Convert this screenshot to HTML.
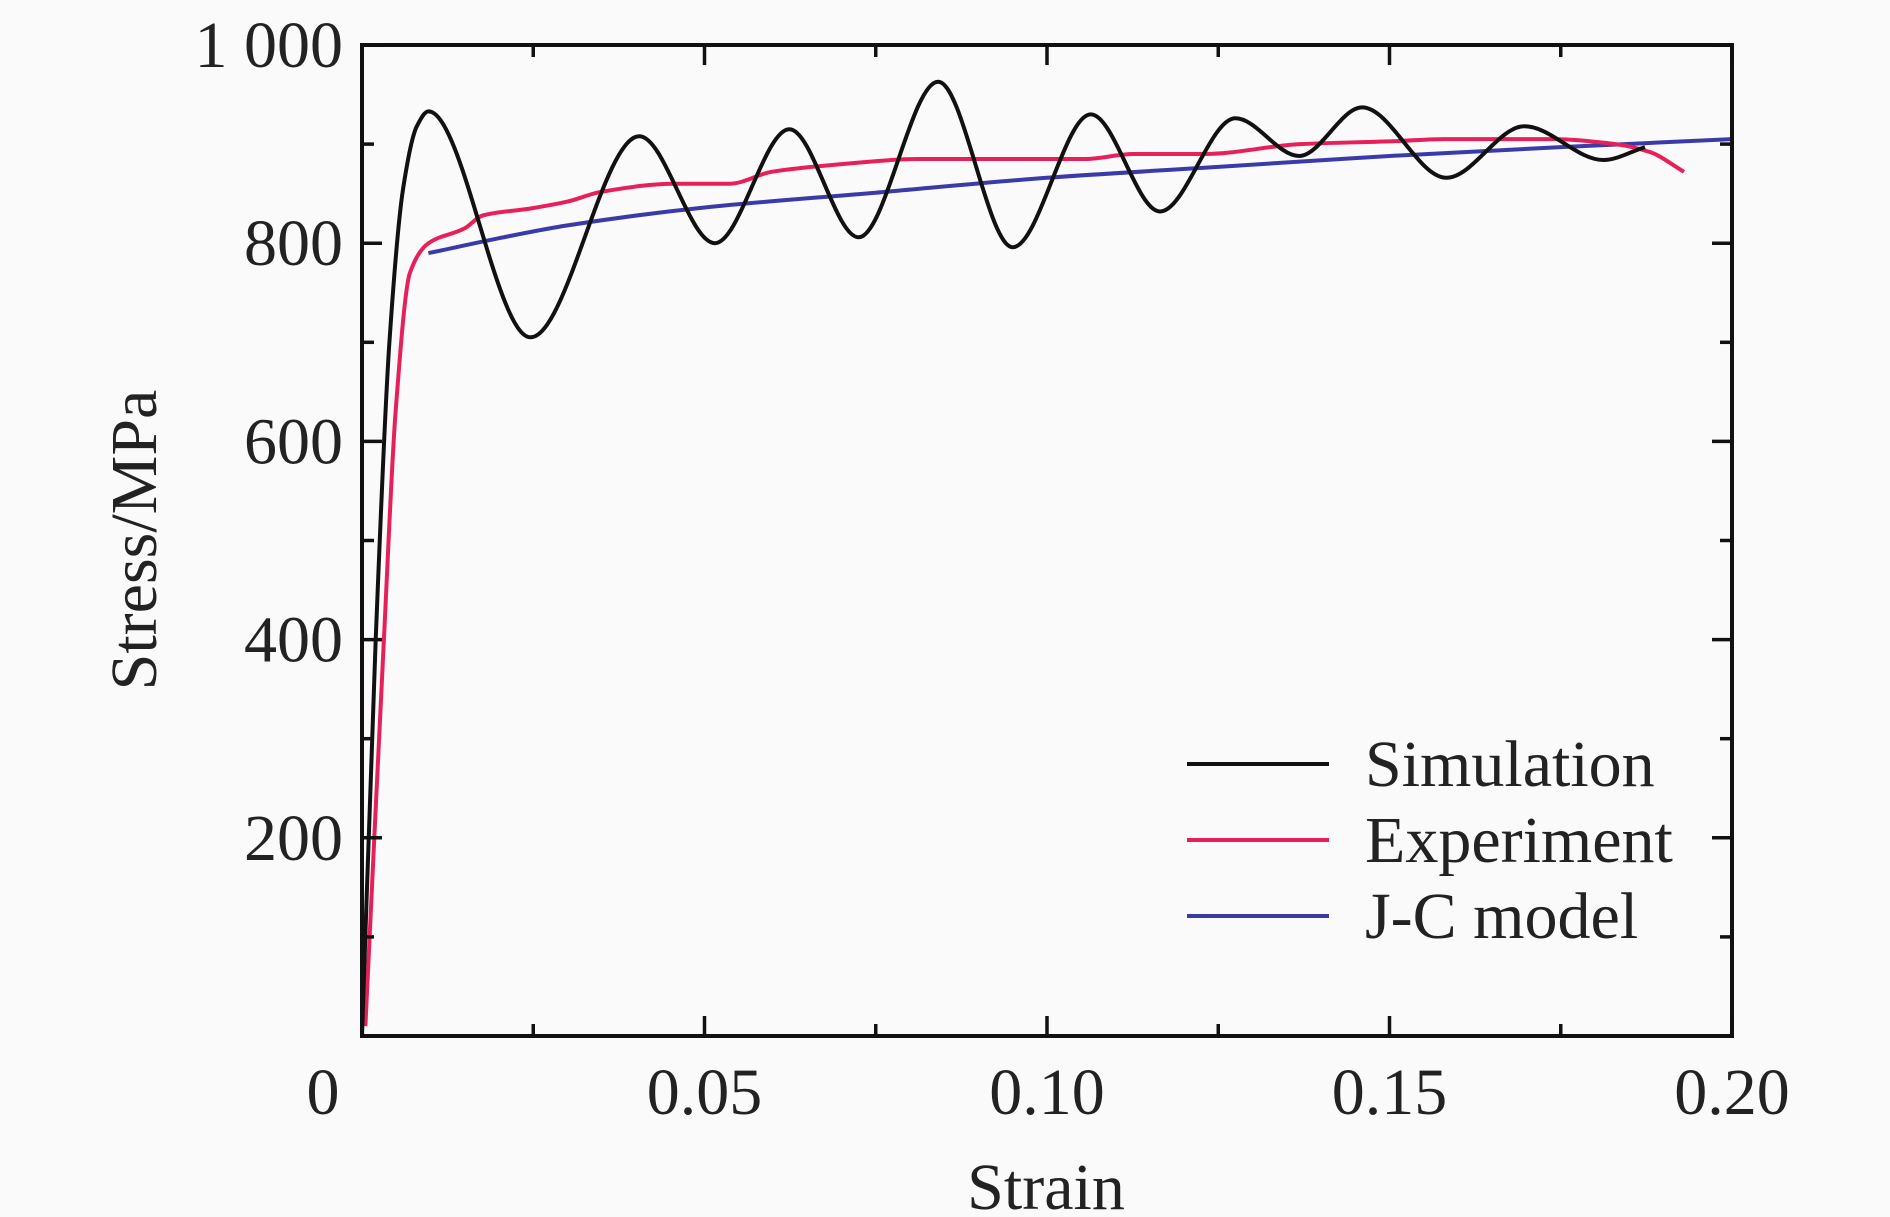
<!DOCTYPE html>
<html><head><meta charset="utf-8">
<style>
html,body{margin:0;padding:0;background:#fafafa;}
svg{display:block;font-family:"Liberation Serif",serif;}
</style></head>
<body>
<svg id="chart" width="1890" height="1217" viewBox="0 0 1890 1217" xmlns="http://www.w3.org/2000/svg">
<rect width="1890" height="1217" fill="#fafafa"/>
<g id="marks"></g>
<g id="axes"></g>
</svg>
<script>
const xTicks = [0, 0.05, 0.10, 0.15, 0.20];
const xTickLabels = ["0", "0.05", "0.10", "0.15", "0.20"];
const yTicks = [200, 400, 600, 800, 1000];
const yTickLabels = ["200", "400", "600", "800", "1 000"];
const simStrain = [0, 0.002, 0.004, 0.006, 0.008, 0.0097, 0.0246, 0.0405, 0.0515, 0.0624, 0.0725, 0.0841, 0.095, 0.1064, 0.1165, 0.1275, 0.1368, 0.146, 0.1583, 0.1697, 0.1812, 0.1873];
const simStress = [0, 400, 700, 855, 918, 933, 705, 908, 800, 915, 806, 963, 796, 930, 832, 926, 888, 937, 866, 918, 884, 897];
const expStrain = [0.0005, 0.0018, 0.0032, 0.0049, 0.007, 0.0097, 0.015, 0.0176, 0.0246, 0.03, 0.035, 0.0457, 0.0537, 0.0598, 0.0704, 0.081, 0.1056, 0.1126, 0.123, 0.137, 0.151, 0.158, 0.174, 0.183, 0.188, 0.193];
const expStress = [10, 200, 400, 630, 770, 800, 815, 828, 835, 842, 852, 860, 860, 872, 880, 885, 885, 890, 890, 900, 903, 905, 905, 900, 892, 872];
const jcStrain = [0.0097, 0.02, 0.03, 0.05, 0.075, 0.1, 0.125, 0.15, 0.175, 0.2];
const jcStress = [790, 805, 818, 836, 851, 866, 877, 888, 897, 905];

const L=362,R=1732,T=45,B=1036;
const xs = s => L + s/0.2*(R-L);
const ys = v => B - v/1000*(B-T);
const NS="http://www.w3.org/2000/svg";
function mk(tag, attrs, parent){const e=document.createElementNS(NS,tag);for(const k in attrs)e.setAttribute(k,attrs[k]);parent.appendChild(e);return e;}

function monoPath(X,Y){
  const n=X.length, d=[], m=[];
  for(let i=0;i<n-1;i++) d.push((Y[i+1]-Y[i])/(X[i+1]-X[i]));
  for(let i=0;i<n;i++){
    if(i===0) m.push(d[0]); else if(i===n-1) m.push(d[n-2]);
    else if(d[i-1]*d[i]<=0) m.push(0);
    else { const w1=2*(X[i+1]-X[i])+(X[i]-X[i-1]), w2=(X[i+1]-X[i])+2*(X[i]-X[i-1]); m.push((w1+w2)/(w1/d[i-1]+w2/d[i])); }
  }
  let p="M"+X[0].toFixed(1)+","+Y[0].toFixed(1);
  for(let i=0;i<n-1;i++){
    const h=X[i+1]-X[i];
    p+=" C"+(X[i]+h/3).toFixed(1)+","+(Y[i]+m[i]*h/3).toFixed(1)+" "+(X[i+1]-h/3).toFixed(1)+","+(Y[i+1]-m[i+1]*h/3).toFixed(1)+" "+X[i+1].toFixed(1)+","+Y[i+1].toFixed(1);
  }
  return p;
}
const marks=document.getElementById('marks');
const axes=document.getElementById('axes');

let p=mk('path',{d:monoPath(jcStrain.map(xs),jcStress.map(ys)),fill:'none',stroke:'#3a3aa8','stroke-width':4},marks);


p=mk('path',{d:monoPath(expStrain.map(xs),expStress.map(ys)),fill:'none',stroke:'#e8205a','stroke-width':4},marks);


p=mk('path',{d:monoPath(simStrain.map(xs),simStress.map(ys)),fill:'none',stroke:'#111','stroke-width':4},marks);



let f=mk('rect',{x:L,y:T,width:R-L,height:B-T,fill:'none',stroke:'#111','stroke-width':4},axes);


for(let i=0;i<=8;i++){
  const s=i*0.025, x=xs(s), len=(i%2===0)?20:12;
  mk('line',{x1:x,y1:B,x2:x,y2:B-len,stroke:'#111','stroke-width':3.5},axes);
  mk('line',{x1:x,y1:T,x2:x,y2:T+len,stroke:'#111','stroke-width':3.5},axes);
}
for(let i=0;i<=10;i++){
  const y=ys(i*100), len=(i%2===0)?20:12;
  mk('line',{x1:L,y1:y,x2:L+len,y2:y,stroke:'#111','stroke-width':3.5},axes);
  mk('line',{x1:R,y1:y,x2:R-len,y2:y,stroke:'#111','stroke-width':3.5},axes);
}
xTicks.forEach((s,i)=>{
  const t=mk('text',{x:i===0?323:xs(s),y:1114,'font-size':66,'text-anchor':'middle',fill:'#222'},axes);
  t.textContent=xTickLabels[i];
  
  
});
yTicks.forEach((v,i)=>{
  const t=mk('text',{x:343,y:ys(v)+22,'font-size':66,'text-anchor':'end',fill:'#222'},axes);
  t.textContent=yTickLabels[i];
  
  
});
let t=mk('text',{x:1046,y:1209,'font-size':66,'text-anchor':'middle',fill:'#222'},axes);
t.textContent='Strain';


t=mk('text',{x:0,y:0,'font-size':66,'text-anchor':'middle',fill:'#222',transform:'translate(156,540) rotate(-90)'},axes);
t.textContent='Stress/MPa';



const legNames=['Simulation','Experiment','J-C model'];
const legColors=['#111','#e8205a','#3a3aa8'];
const legY=[764,840,916];
legNames.forEach((n,i)=>{
  const g=mk('g',{},axes);
  
  
  mk('line',{x1:1187,y1:legY[i],x2:1329,y2:legY[i],stroke:legColors[i],'stroke-width':4},g);
  const tx=mk('text',{x:1365,y:legY[i]+22,'font-size':66,fill:'#222'},g);
  tx.textContent=n;
});
</script>
</body></html>
